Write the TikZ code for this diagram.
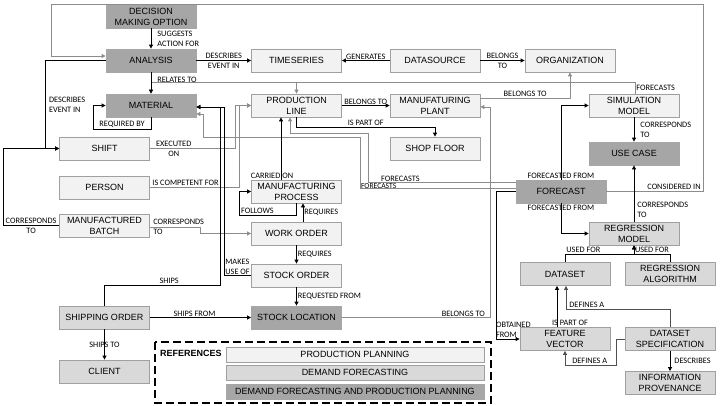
\documentclass[tikz,border=0pt]{standalone}
\usepackage{fontspec}
\setmainfont{Liberation Sans}
\newfontfamily\labelfont{Carlito}
\usetikzlibrary{arrows.meta}

\begin{document}
\begin{tikzpicture}[x=1pt, y=-1pt,
    box/.style={rectangle, draw=boxBorder, line width=0.8pt, minimum width=90pt, minimum height=23pt, inner sep=1pt, align=center, font=\fontsize{9}{11}\selectfont},
    lightBox/.style={box, fill=lightFill},
    midBox/.style={box, fill=midFill},
    darkBox/.style={box, fill=darkFill, draw=darkFill},
    rel/.style={draw=black, line width=0.8pt, -{Triangle[length=4pt,width=4pt]}},
    grayRel/.style={draw=lineGray, line width=0.9pt, -{Triangle[length=4pt,width=4pt]}},
    darkRel/.style={rel, draw=darkLine},
    lbl/.style={font=\labelfont\fontsize{8.3}{10}\selectfont, inner sep=1pt, text=black}]

    \definecolor{boxBorder}{HTML}{A0A0A0}
    \definecolor{lightFill}{HTML}{F2F2F2}
    \definecolor{midFill}{HTML}{D9D9D9}
    \definecolor{darkFill}{HTML}{A6A6A6}
    \definecolor{lineGray}{HTML}{8C8C8C}
    \definecolor{darkLine}{HTML}{505050}

    % Fix the page size
    \useasboundingbox (0,0) rectangle (720,405);

    % Draw the entity boxes
    \node[darkBox] (decision) at (151,16.5) {DECISION\\MAKING OPTION};
    \node[darkBox] (analysis) at (151,60.5) {ANALYSIS};
    \node[darkBox] (material) at (151,105.5) {MATERIAL};
    \node[lightBox] (timeseries) at (296.5,60.5) {TIMESERIES};
    \node[lightBox] (datasource) at (435,60.5) {DATASOURCE};
    \node[lightBox] (organization) at (570,60.5) {ORGANIZATION};
    \node[lightBox] (prodLine) at (296.5,105.5) {PRODUCTION\\LINE};
    \node[lightBox] (plant) at (435,105.5) {MANUFATURING\\PLANT};
    \node[lightBox] (simModel) at (634,105.5) {SIMULATION\\MODEL};
    \node[lightBox] (shift) at (104.5,148.5) {SHIFT};
    \node[lightBox] (shopFloor) at (435,148.5) {SHOP FLOOR};
    \node[darkBox] (useCase) at (634,153.5) {USE CASE};
    \node[lightBox] (person) at (104.5,187.5) {PERSON};
    \node[lightBox] (process) at (296.5,191.5) {MANUFACTURING\\PROCESS};
    \node[darkBox] (forecast) at (561,191.5) {FORECAST};
    \node[lightBox] (batch) at (104.5,225.5) {MANUFACTURED\\BATCH};
    \node[lightBox] (workOrder) at (296.5,233.5) {WORK ORDER};
    \node[midBox] (regModel) at (634,233.5) {REGRESSION\\MODEL};
    \node[midBox] (dataset) at (565,274) {DATASET};
    \node[midBox] (regAlgo) at (670,274) {REGRESSION\\ALGORITHM};
    \node[lightBox] (stockOrder) at (296.5,275.5) {STOCK ORDER};
    \node[midBox] (shipOrder) at (104.5,317.5) {SHIPPING ORDER};
    \node[darkBox] (stockLoc) at (296.5,317.5) {STOCK LOCATION};
    \node[midBox] (featVec) at (565,339) {FEATURE\\VECTOR};
    \node[midBox] (dataSpec) at (670,339) {DATASET\\SPECIFICATION};
    \node[midBox] (client) at (104.5,371.5) {CLIENT};
    \node[midBox] (provenance) at (670,383) {INFORMATION\\PROVENANCE};

    % Gray relations
    \draw[grayRel] (forecast.east) -- (703,191.5) node[lbl, pos=0.7, above] {CONSIDERED IN} |- (51,4) |- ([yshift=4.5pt]analysis.west);
    \draw[grayRel] ([xshift=1pt]simModel.north) -- ++(0,-11) node[lbl, midway, right] {FORECASTS} -| (prodLine.north);
    \draw[grayRel] ([xshift=1pt]simModel.north) -- ++(0,-11) -| (material.north);
    \draw[grayRel] ([yshift=7.5pt]plant.east) -| (organization.south) node[lbl, pos=0.25, above] {BELONGS TO};
    \draw[grayRel] (stockLoc.east) -| (490,107) node[lbl, pos=0.41, above] {BELONGS TO} -- ([yshift=-1.5pt]plant.east);
    \draw[grayRel] (shift.east) -| (235,105.5) node[lbl, pos=0.14, align=center] {EXECUTED\\ON} -- (prodLine.west);
    \draw[grayRel] (person.east) -| (239,105.5) node[lbl, pos=0.2, above] {IS COMPETENT FOR} -- (prodLine.west);
    \draw[grayRel] ([yshift=-1.5pt]batch.east) -- ++(51,0) node[lbl, pos=0, anchor=west, xshift=2pt, align=left] {CORRESPONDS\\TO} |- (workOrder.west);
    \draw[grayRel] ([yshift=9pt]forecast.west) -| (368,133) node[lbl, pos=0.39, above, inner sep=0.5pt] {FORECASTS} -| ([xshift=-6.5pt]prodLine.south);
    \draw[grayRel] ([yshift=3pt]forecast.west) -| (360,137) node[lbl, pos=0.44, above, inner sep=0pt, font=\labelfont\fontsize{7.6}{9}\selectfont] {FORECASTS} -| (203,114) -- ([yshift=-8.5pt]material.east);

    % Black relations
    \draw[rel] (decision) -- (analysis) node[lbl, midway, right, xshift=5pt, align=left] {SUGGESTS\\ACTION FOR};
    \draw[rel] (analysis) -- (timeseries) node[lbl, midway, align=center] {DESCRIBES\\EVENT IN};
    \draw[rel] (analysis.west) -- ++(-60,0) |- (shift.west) node[lbl, pos=0.25, right, xshift=2pt, align=left] {DESCRIBES\\EVENT IN};
    \draw[rel] (analysis) -- (material) node[lbl, pos=0.35, right, xshift=5pt] {RELATES TO};
    \draw[rel] (material.south) |- (93,129) node[lbl, pos=0.75, above] {REQUIRED BY} |- (material.west);
    \draw[rel] (datasource) -- (timeseries) node[lbl, midway, above] {GENERATES};
    \draw[rel] (datasource) -- (organization) node[lbl, midway, align=center] {BELONGS\\TO};
    \draw[rel] (prodLine) -- (plant) node[lbl, midway, above] {BELONGS TO};
    \draw[rel] (prodLine.south) -- ++(0,10) -| (shopFloor.north) node[lbl, pos=0.25, above] {IS PART OF};
    \draw[rel] (forecast.north) node[lbl, above] {FORECASTED FROM} |- (simModel.west);
    \draw[rel] (forecast.south) node[lbl, below] {FORECASTED FROM} |- (regModel.west);
    \draw[rel] (simModel) -- (useCase) node[lbl, midway, right, xshift=5pt, align=left] {CORRESPONDS\\TO};
    \draw[rel] (regModel) -- (useCase) node[lbl, pos=0.21, right, xshift=2pt, align=left] {CORRESPONDS\\TO};
    \draw[rel] (dataset.north) |- ([yshift=-9pt]regModel.south) node[lbl, pos=0.5, above right] {USED FOR} -- (regModel.south);
    \draw[rel] (regAlgo.north) |- ([yshift=-9pt]regModel.south) node[lbl, pos=0.75, above] {USED FOR} -- (regModel.south);
    \draw[rel] ([xshift=-8pt]featVec.north) -- ([xshift=-8pt]dataset.south) node[lbl, pos=0, above, xshift=13pt] {IS PART OF};
    \draw[darkRel] (dataSpec.north) |- ([xshift=1pt, yshift=-23pt]dataset.south) node[lbl, pos=0.9, above] {DEFINES A} -- ([xshift=1pt]dataset.south);
    \draw[darkRel] (dataSpec.west) -- ++(-8,0) |- ([yshift=-14pt]featVec.south) node[lbl, pos=0.76, above] {DEFINES A} -- (featVec.south);
    \draw[rel] (dataSpec) -- (provenance) node[lbl, midway, right, xshift=3pt] {DESCRIBES};
    \draw[rel] (forecast.west) -- ++(-19,0) |- (featVec.west) node[lbl, pos=0.5, anchor=south west, xshift=-2pt, align=left] {OBTAINED\\FROM};
    \draw[rel] ([xshift=-15.5pt]process.north) -- ([xshift=-15.5pt]prodLine.south) node[lbl, pos=0, above, xshift=-9pt] {CARRIED ON};
    \draw[rel] (process.south) -- ++(0,12) -| (239,191.5) node[lbl, pos=0.34, above] {FOLLOWS} -- (process.west);
    \draw[rel] ([xshift=6.5pt]workOrder.north) -- ([xshift=6.5pt]process.south) node[lbl, midway, right] {REQUIRES};
    \draw[rel] (workOrder) -- (stockOrder) node[lbl, midway, right] {REQUIRES};
    \draw[rel] (batch.west) -- ++(-56,0) node[lbl, midway, align=center] {CORRESPONDS\\TO} |- (shift.west);
    \draw[rel] (stockOrder.west) -| (224,107) node[lbl, pos=0.5, above right, align=left] {MAKES\\USE OF} -- ([yshift=-1.5pt]material.east);
    \draw[rel] (shipOrder.north) |- (220,285) node[lbl, pos=0.78, above] {SHIPS} |- ([yshift=-1.5pt]material.east);
    \draw[rel] (shipOrder) -- (stockLoc) node[lbl, midway, above, xshift=-6pt] {SHIPS FROM};
    \draw[rel] (shipOrder) -- (client) node[lbl, midway] {SHIPS TO};
    \draw[rel] (stockOrder) -- (stockLoc) node[lbl, midway, right] {REQUESTED FROM};

    % References legend
    \draw[dash pattern=on 8pt off 4pt, line width=1.6pt] (155,342) rectangle (491,403);
    \node[font=\bfseries\fontsize{9}{11}\selectfont, anchor=west, inner sep=1pt] (refTitle) at (159,353) {REFERENCES};
    \node[lightBox, minimum width=258pt, minimum height=15pt] (refPlanning) at (355,354.5) {PRODUCTION PLANNING};
    \node[midBox, minimum width=258pt, minimum height=15pt] (refDemand) at (355,372.5) {DEMAND FORECASTING};
    \node[darkBox, minimum width=258pt, minimum height=15pt] (refBoth) at (355,391.5) {DEMAND FORECASTING AND PRODUCTION PLANNING};

\end{tikzpicture}
\end{document}
